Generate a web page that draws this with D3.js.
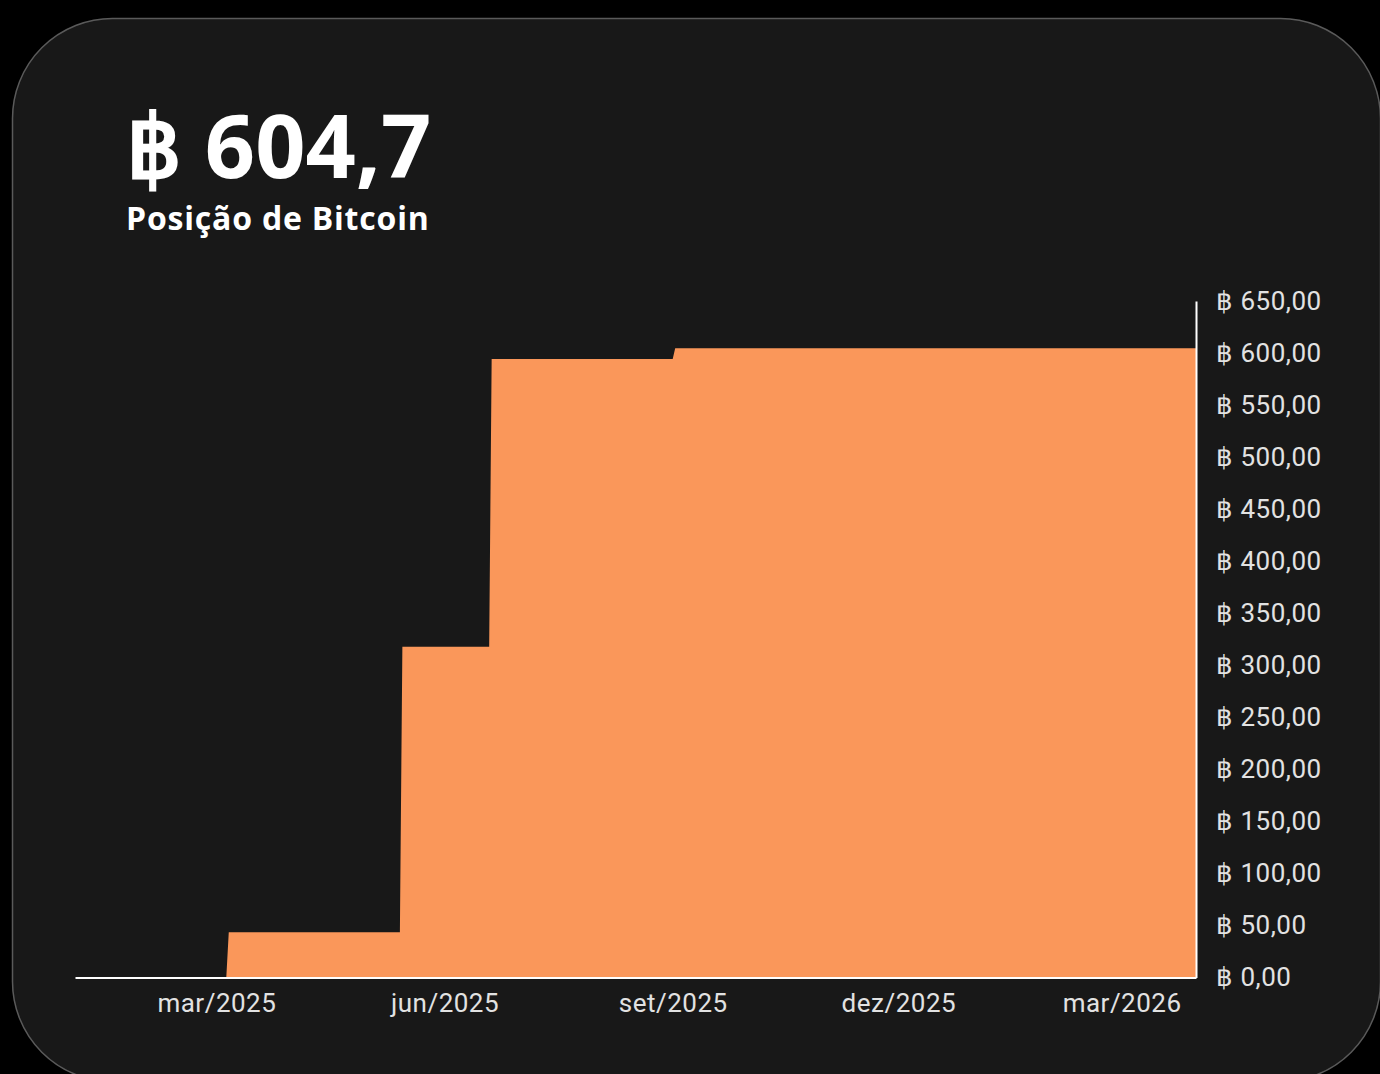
<!DOCTYPE html>
<html>
<head>
<meta charset="utf-8">
<script src="https://cdn.jsdelivr.net/npm/d3@7"></script>
<style>
  html, body { margin: 0; padding: 0; background: #000; }
  svg { display: block; }
</style>
</head>
<body>
<svg id="chart" width="1380" height="1074"></svg>
<script>
// ---- data ----
const dates = ["2025-01-03", "2025-03-05", "2025-03-06", "2025-05-14", "2025-05-15", "2025-06-19", "2025-06-20", "2025-09-01", "2025-09-02", "2026-03-31"];
const holdings = [0, 0, 43.5, 43.5, 317.8, 317.8, 594.2, 594.2, 604.7, 604.7];
const xTickDates = ["2025-03-01", "2025-06-01", "2025-09-01", "2025-12-01", "2026-03-01"];
const xTickLabels = ["mar/2025", "jun/2025", "set/2025", "dez/2025", "mar/2026"];
const yTicks = [0, 50, 100, 150, 200, 250, 300, 350, 400, 450, 500, 550, 600, 650];
const titleValue = "฿ 604,7";
const subtitle = "Posição de Bitcoin";

const parse = d3.utcParse("%Y-%m-%d");
const data = dates.map((d, i) => ({ date: parse(d), value: holdings[i] }));

const svg = d3.select("#chart");

// card
svg.append("rect")
  .attr("x", 12.5).attr("y", 18.5)
  .attr("width", 1368).attr("height", 1063)
  .attr("rx", 100).attr("ry", 100)
  .attr("fill", "#181818")
  .attr("stroke", "#5a5a5a").attr("stroke-width", 1.5);

// title
svg.append("text")
  .attr("x", 126).attr("y", 178)
  .attr("fill", "#ffffff")
  .attr("font-family", "'Open Sans', sans-serif")
  .attr("font-weight", 700)
  .attr("font-size", 88)
  .text(titleValue);

svg.append("text")
  .attr("x", 126).attr("y", 230)
  .attr("fill", "#ffffff")
  .attr("font-family", "'Open Sans', sans-serif")
  .attr("font-weight", 700)
  .attr("font-size", 32)
  .attr("letter-spacing", 0.8)
  .text(subtitle);

// scales
const x = d3.scaleUtc()
  .domain([parse(dates[0]), parse(dates[dates.length - 1])])
  .range([75, 1196]);
const y = d3.scaleLinear().domain([0, 650]).range([977.5, 301]);

// area
const area = d3.area()
  .x(d => x(d.date))
  .y0(y(0))
  .y1(d => y(d.value))
  .curve(d3.curveLinear);

svg.append("path")
  .datum(data)
  .attr("d", area)
  .attr("fill", "#FA975A");

// number format
const locale = d3.formatLocale({ decimal: ",", thousands: ".", grouping: [3], currency: ["", ""] });
const fmt = locale.format(",.2f");

// right axis
const yAxis = d3.axisRight(y)
  .tickValues(yTicks)
  .tickSize(0)
  .tickPadding(20)
  .tickFormat(d => "฿ " + fmt(d));

const gy = svg.append("g")
  .attr("transform", "translate(1196,0)")
  .call(yAxis);
gy.select(".domain").attr("stroke", "#ffffff").attr("stroke-width", 2);
gy.selectAll("text")
  .attr("fill", "#e2e2e2")
  .attr("font-family", "Roboto, sans-serif")
  .attr("font-size", 26)
  .attr("letter-spacing", 0.5);

// bottom axis
const xAxis = d3.axisBottom(x)
  .tickValues(xTickDates.map(parse))
  .tickSize(0)
  .tickPadding(16)
  .tickFormat((d, i) => xTickLabels[i]);

const gx = svg.append("g")
  .attr("transform", "translate(0,977.5)")
  .call(xAxis);
gx.select(".domain").attr("stroke", "#ffffff").attr("stroke-width", 2);
gx.selectAll("text")
  .attr("fill", "#e2e2e2")
  .attr("font-family", "Roboto, sans-serif")
  .attr("font-size", 26)
  .attr("letter-spacing", 0.5);
</script>
</body>
</html>
